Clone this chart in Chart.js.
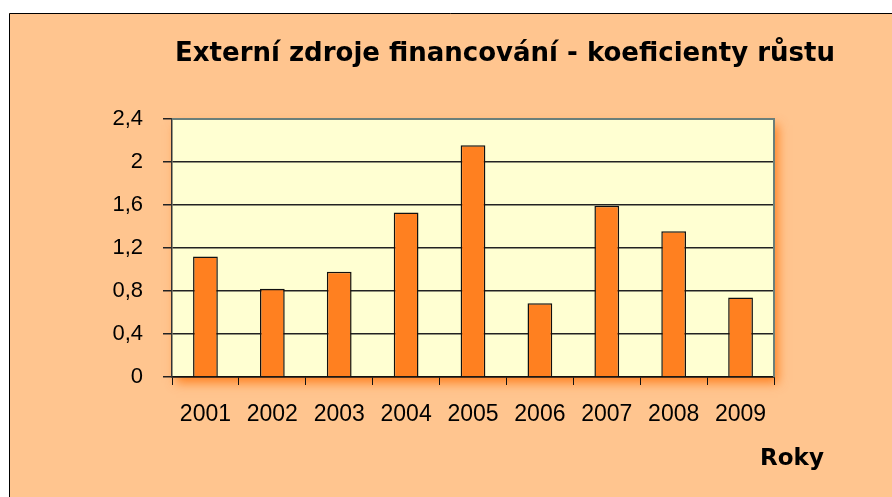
<!DOCTYPE html>
<html>
<head>
<meta charset="utf-8">
<script src="https://cdn.jsdelivr.net/npm/chart.js@4.4.1/dist/chart.umd.min.js"></script>
<style>
html,body{margin:0;padding:0;background:#fff;}
#wrap{width:892px;height:497px;position:relative;}
</style>
</head>
<body>
<div id="wrap"><canvas id="c" width="892" height="497"></canvas></div>
<script>
const categories = ["2001","2002","2003","2004","2005","2006","2007","2008","2009"];
const values = [1.12, 0.82, 0.98, 1.53, 2.155, 0.685, 1.593, 1.355, 0.74];
const yTicks = [0, 0.4, 0.8, 1.2, 1.6, 2, 2.4];
const titleText = "Externí zdroje financování - koeficienty růstu";
const xAxisTitle = "Roky";

const PEACH = "#FFC58F";
const PLOT_BG = "#FFFFD2";

const bgPlugin = {
  id: "bg",
  beforeDraw(chart) {
    const ctx = chart.ctx;
    const W = chart.width, H = chart.height;
    ctx.save();
    ctx.fillStyle = "#ffffff";
    ctx.fillRect(0, 0, W, H);
    ctx.fillStyle = PEACH;
    ctx.fillRect(9, 13, W - 9, H - 13);
    ctx.strokeStyle = "#000";
    ctx.lineWidth = 1;
    ctx.beginPath();
    ctx.moveTo(9.5, H);
    ctx.lineTo(9.5, 13.5);
    ctx.lineTo(W, 13.5);
    ctx.stroke();
    const a = chart.chartArea;
    ctx.shadowColor = "rgba(255,110,0,0.75)";
    ctx.shadowBlur = 10;
    ctx.shadowOffsetX = 4;
    ctx.shadowOffsetY = 6;
    ctx.fillStyle = PLOT_BG;
    ctx.fillRect(a.left, a.top, a.right - a.left, a.bottom - a.top);
    ctx.restore();
  },
  afterDatasetsDraw(chart) {
    const ctx = chart.ctx;
    const a = chart.chartArea;
    ctx.save();
    ctx.strokeStyle = "#6B7F7A";
    ctx.lineWidth = 2;
    ctx.beginPath();
    ctx.moveTo(a.left, a.top);
    ctx.lineTo(a.right, a.top);
    ctx.lineTo(a.right, a.bottom);
    ctx.stroke();
    ctx.fillStyle = "#000";
    ctx.textAlign = "center";
    ctx.textBaseline = "alphabetic";
    ctx.font = "bold 26px 'DejaVu Sans', sans-serif";
    ctx.fillText(titleText, 505, 61);
    ctx.font = "bold 23px 'DejaVu Sans', sans-serif";
    ctx.fillText(xAxisTitle, 792, 465);
    ctx.restore();
  }
};

new Chart(document.getElementById("c"), {
  type: "bar",
  data: {
    labels: categories,
    datasets: [{
      data: values,
      backgroundColor: "#FF8020",
      borderColor: "#111",
      borderWidth: 1.5,
      categoryPercentage: 0.37,
      barPercentage: 1.0
    }]
  },
  options: {
    responsive: false,
    animation: false,
    devicePixelRatio: 1,
    layout: { padding: { left: 0, right: 118, top: 119, bottom: 60 } },
    plugins: { legend: { display: false }, title: { display: false }, tooltip: { enabled: false } },
    scales: {
      x: {
        grid: { drawOnChartArea: false, drawTicks: true, tickLength: 8, color: "#111", offset: true },
        border: { color: "#111", width: 1.5 },
        ticks: { color: "#000", font: { family: "'Liberation Sans', Arial, sans-serif", size: 23 }, padding: 16 },
        afterFit(scale) { scale.height = 60; }
      },
      y: {
        min: 0, max: 2.4,
        afterBuildTicks(scale) { scale.ticks = yTicks.map(v => ({ value: v })); },
        grid: { color: "#222", lineWidth: 1.5, tickLength: 9, drawTicks: true },
        border: { color: "#333", width: 1.5 },
        ticks: {
          color: "#000",
          font: { family: "'Liberation Sans', Arial, sans-serif", size: 22 },
          padding: 20,
          callback: v => String(Math.round(v * 10) / 10).replace(".", ",")
        },
        afterFit(scale) { scale.width = 172; }
      }
    }
  },
  plugins: [bgPlugin]
});
</script>
</body>
</html>
